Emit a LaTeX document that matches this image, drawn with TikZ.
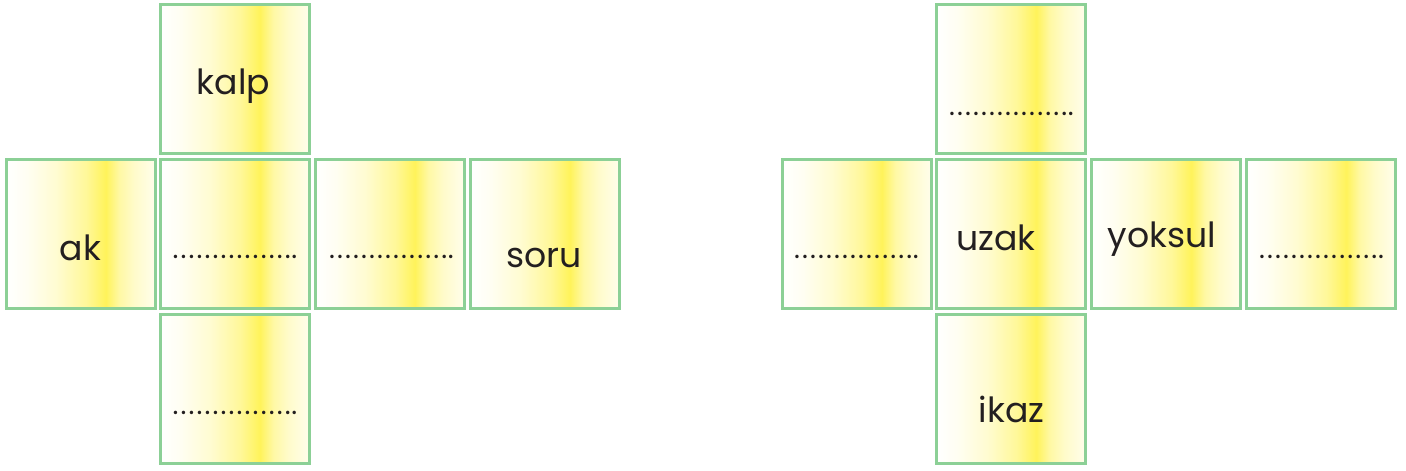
\documentclass[tikz,border=0pt]{standalone}
\usepackage{fontspec}
\setmainfont{Poppins}
\definecolor{cardgreen}{RGB}{140,208,150}
\definecolor{pk}{RGB}{255,243,90}
\definecolor{ink}{RGB}{35,31,32}
\pgfdeclarehorizontalshading{cardshade}{100bp}{%
  color(0bp)=(white); color(25bp)=(white); color(32bp)=(pk!8);
  color(42bp)=(pk!28); color(52bp)=(pk!62); color(58.5bp)=(pk);
  color(63bp)=(pk!55); color(68bp)=(pk!32);
  color(75bp)=(pk!12); color(100bp)=(pk!12)}
\newcommand{\gd}{.\kern1.6pt}
\newcommand{\dotrun}{\gd\gd\gd\gd\gd\gd\gd\gd\gd\gd\gd\gd\gd\gd.\kern0.6pt.}
\tikzset{
  card/.style={draw=cardgreen, line width=2.25pt, shading=cardshade,
    minimum width=111.75pt, minimum height=111.75pt, inner sep=0pt, outer sep=0pt},
  word/.style={anchor=base, text=ink, font=\fontsize{26}{26}\selectfont, inner sep=0pt},
  blank/.style={anchor=base, text=ink, font=\fontsize{21}{21}\selectfont, inner sep=0pt}
}
\begin{document}
\begin{tikzpicture}[x=0.75pt, y=-0.75pt]
\useasboundingbox (0,0) rectangle (1406,471);
% left net
\node[card] (L1) at (234.5,79) {};
\node[card] (L2) at (80.5,233.5) {};
\node[card] (L3) at (234.5,233.5) {};
\node[card] (L4) at (389.5,233.5) {};
\node[card] (L5) at (544.5,233.5) {};
\node[card] (L6) at (234.5,388.5) {};
% right net
\node[card] (R1) at (1011,79) {};
\node[card] (R2) at (856.5,233.5) {};
\node[card] (R3) at (1011,233.5) {};
\node[card] (R4) at (1166,233.5) {};
\node[card] (R5) at (1321,233.5) {};
\node[card] (R6) at (1011,388.5) {};
% texts
\node[word] (t1) at (233.5,94) {kalp};
\node[word] (t2) at (80.5,260) {ak};
\node[blank] (t3) at (235,258) {\dotrun};
\node[blank] (t4) at (391.5,258) {\dotrun};
\node[word] (t5) at (544,267) {soru};
\node[blank] (t6) at (235,414) {\dotrun};
\node[blank] (t7) at (1011.5,115) {\dotrun};
\node[blank] (t8) at (856.5,258) {\dotrun};
\node[word] (t9) at (996,250) {uzak};
\node[word] (t10) at (1162,247) {yoksul};
\node[blank] (t11) at (1321.5,258) {\dotrun};
\node[word] (t12) at (1011.5,422) {ikaz};
\end{tikzpicture}
\end{document}
